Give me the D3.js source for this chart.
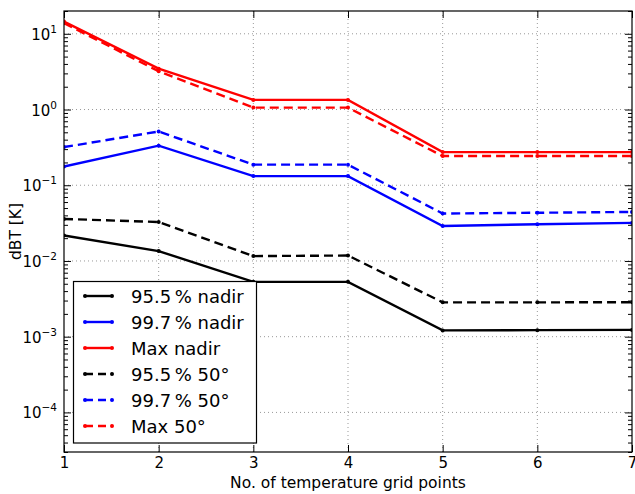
<!DOCTYPE html>
<html><head><meta charset="utf-8">
<script src="https://cdn.jsdelivr.net/npm/d3@7"></script>
<style>
body{margin:0;background:#fff;}
text{font-family:"DejaVu Sans",sans-serif;fill:#000;}
</style></head>
<body><svg id="c" width="635" height="494"></svg>
<script>
const gridPoints = [1, 2, 3, 4, 5, 6, 7];
const nadir955 = [0.0217, 0.0135, 0.0053, 0.0053, 0.00121, 0.00122, 0.00123];
const nadir997 = [0.177, 0.333, 0.132, 0.132, 0.029, 0.0305, 0.0318];
const nadirMax = [14.5, 3.46, 1.34, 1.34, 0.274, 0.274, 0.274];
const deg50_955 = [0.0359, 0.0327, 0.0116, 0.0118, 0.00284, 0.00284, 0.00285];
const deg50_997 = [0.319, 0.513, 0.187, 0.187, 0.0423, 0.0433, 0.0444];
const deg50_Max = [13.8, 3.2, 1.06, 1.06, 0.243, 0.243, 0.243];
const seriesNames = ["95.5\u2009% nadir", "99.7\u2009% nadir", "Max nadir", "95.5\u2009% 50\u00b0", "99.7\u2009% 50\u00b0", "Max 50\u00b0"];
const seriesColors = ["#000000", "#0000ff", "#ff0000", "#000000", "#0000ff", "#ff0000"];
const seriesDashed = [false, false, false, true, true, true];
const yTickExps = [-4, -3, -2, -1, 0, 1];
const xLabel = "No. of temperature grid points";
const yLabel = "dBT [K]";

const seriesValues = [nadir955, nadir997, nadirMax, deg50_955, deg50_997, deg50_Max];

const svg = d3.select("#c");
const L = 64, R = 632, T = 11, B = 452;
const x = d3.scaleLinear().domain([1, 7]).range([L, R]);
const y = d3.scaleLog().domain([3e-5, 20]).range([B, T]);

// grid
const g = svg.append("g");
gridPoints.slice(1, -1).forEach(v => {
  g.append("line").attr("x1", x(v)).attr("x2", x(v)).attr("y1", T).attr("y2", B)
    .attr("stroke", "#999").attr("stroke-width", 1).attr("stroke-dasharray", "1,3");
});
yTickExps.forEach(e => {
  g.append("line").attr("x1", L).attr("x2", R).attr("y1", y(Math.pow(10, e))).attr("y2", y(Math.pow(10, e)))
    .attr("stroke", "#999").attr("stroke-width", 1).attr("stroke-dasharray", "1,3");
});

// clip
svg.append("clipPath").attr("id", "clip").append("rect").attr("x", L).attr("y", T).attr("width", R - L).attr("height", B - T);

const line = d3.line().x((d, i) => x(gridPoints[i])).y(d => y(d));
const plot = svg.append("g").attr("clip-path", "url(#clip)");
seriesValues.forEach((vals, k) => {
  plot.append("path").attr("d", line(vals)).attr("fill", "none")
    .attr("stroke", seriesColors[k]).attr("stroke-width", 2.4)
    .attr("stroke-dasharray", seriesDashed[k] ? "9,5" : null);
  plot.selectAll(null).data(vals).enter().append("circle")
    .attr("cx", (d, i) => x(gridPoints[i])).attr("cy", d => y(d)).attr("r", 2)
    .attr("fill", seriesColors[k]);
});

// axes ticks (inward)
const minorVals = [];
for (let e = -5; e <= 1; e++) for (let m = 2; m <= 9; m++) {
  const v = m * Math.pow(10, e);
  if (v >= 3e-5 && v <= 20) minorVals.push(v);
}
const majorVals = yTickExps.map(e => Math.pow(10, e));
const axL = svg.append("g").attr("transform", `translate(${L},0)`)
  .call(d3.axisLeft(y).tickValues(majorVals).tickSize(-7).tickFormat(""));
const axLm = svg.append("g").attr("transform", `translate(${L},0)`)
  .call(d3.axisLeft(y).tickValues(minorVals).tickSize(-4).tickFormat(""));
const axR = svg.append("g").attr("transform", `translate(${R},0)`)
  .call(d3.axisRight(y).tickValues(majorVals).tickSize(-7).tickFormat(""));
const axRm = svg.append("g").attr("transform", `translate(${R},0)`)
  .call(d3.axisRight(y).tickValues(minorVals).tickSize(-4).tickFormat(""));
const axB = svg.append("g").attr("transform", `translate(0,${B})`)
  .call(d3.axisBottom(x).tickValues(gridPoints).tickSize(-7).tickPadding(5).tickFormat(d3.format("d")));
const axT = svg.append("g").attr("transform", `translate(0,${T})`)
  .call(d3.axisTop(x).tickValues(gridPoints).tickSize(-7).tickFormat(""));
[axL, axLm, axR, axRm, axB, axT].forEach(a => {
  a.select(".domain").remove();
  a.selectAll(".tick line").attr("stroke", "#000").attr("stroke-width", 1);
});
axB.selectAll(".tick text").attr("font-size", 15).attr("fill", "#000").attr("font-family", "DejaVu Sans");

// y tick labels with superscripts
yTickExps.forEach(e => {
  const t = svg.append("text").attr("x", 57).attr("y", y(Math.pow(10, e)) + 6)
    .attr("text-anchor", "end").attr("font-size", 15);
  t.append("tspan").text("10");
  t.append("tspan").attr("dy", -7).attr("font-size", 10.5).text(String(e).replace("-", "\u2212"));
});

// frame
svg.append("rect").attr("x", L).attr("y", T).attr("width", R - L).attr("height", B - T)
  .attr("fill", "none").attr("stroke", "#000").attr("stroke-width", 1.2);

// labels
svg.append("text").attr("x", (L + R) / 2).attr("y", 488).attr("text-anchor", "middle")
  .attr("font-size", 15.5).text(xLabel);
svg.append("text").attr("transform", `translate(21,${(T + B) / 2}) rotate(-90)`)
  .attr("text-anchor", "middle").attr("font-size", 15.5).text(yLabel);

// legend
const lg = svg.append("g");
lg.append("rect").attr("x", 73.5).attr("y", 281.5).attr("width", 183).attr("height", 161.5)
  .attr("fill", "#fff").attr("stroke", "#000").attr("stroke-width", 1.2);
seriesNames.forEach((name, k) => {
  const yy = 296 + k * 26;
  lg.append("line").attr("x1", 85).attr("x2", 112).attr("y1", yy).attr("y2", yy)
    .attr("stroke", seriesColors[k]).attr("stroke-width", 2.4)
    .attr("stroke-dasharray", seriesDashed[k] ? "8,5" : null);
  [85, 112].forEach(cx => lg.append("circle").attr("cx", cx).attr("cy", yy).attr("r", 2).attr("fill", seriesColors[k]));
  lg.append("text").attr("x", 131).attr("y", yy + 6.5).attr("font-size", 18).text(name);
});
</script></body></html>
